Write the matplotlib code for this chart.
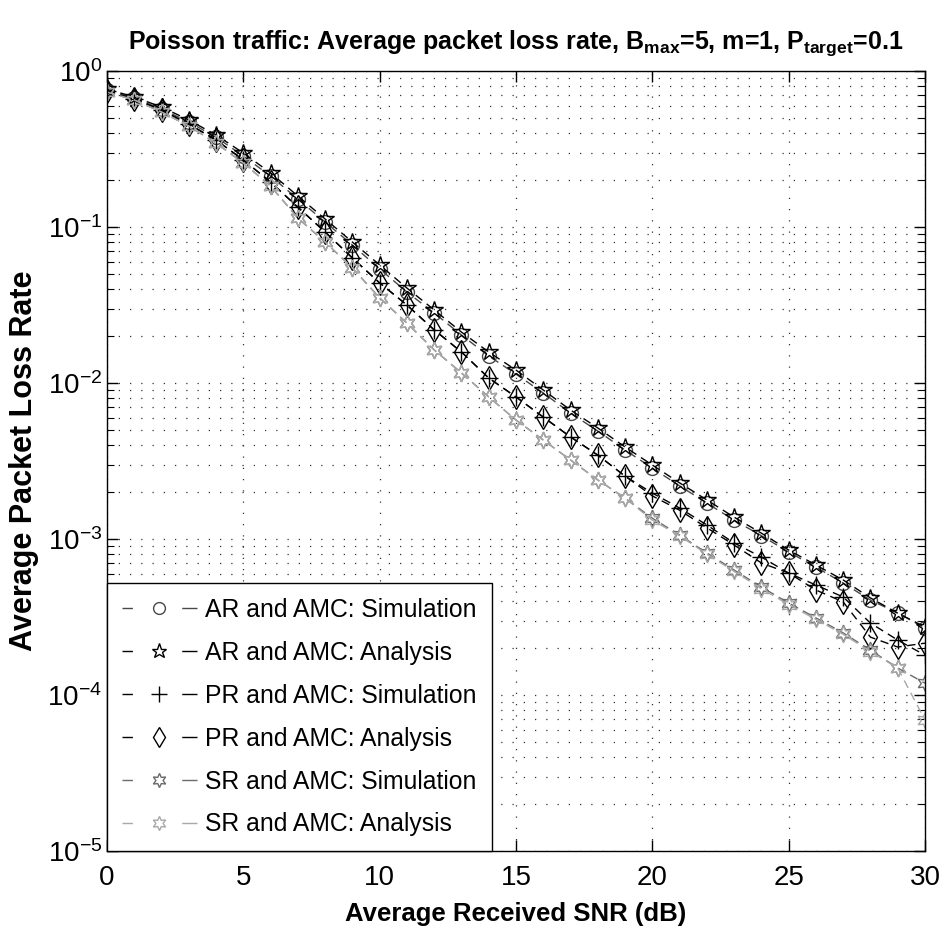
import matplotlib
matplotlib.use("Agg")
import matplotlib.pyplot as plt
from matplotlib.lines import Line2D

plt.rcParams['font.family'] = ['Liberation Sans', 'DejaVu Sans']
plt.rcParams['mathtext.fontset'] = 'custom'
plt.rcParams['mathtext.rm'] = 'Liberation Sans'
plt.rcParams['mathtext.bf'] = 'Liberation Sans:bold'

snr = list(range(0, 31))

ar_sim = [0.756, 0.671, 0.571, 0.471, 0.377, 0.285, 0.212, 0.151, 0.1076, 0.0767,
          0.0538, 0.0383, 0.0281, 0.0203, 0.0149, 0.0114, 0.00863, 0.00642, 0.00492,
          0.00372, 0.00285, 0.00219, 0.00170, 0.00132, 0.00105, 0.000825, 0.000661,
          0.000522, 0.000406, 0.000335, 0.000269]
ar_ana = [0.767, 0.681, 0.588, 0.485, 0.389, 0.298, 0.222, 0.158, 0.1125, 0.0801,
          0.0571, 0.0406, 0.0294, 0.0212, 0.0158, 0.0121, 0.00902, 0.00671, 0.00515,
          0.00389, 0.00298, 0.00229, 0.00178, 0.00138, 0.00109, 0.000850, 0.000681,
          0.000546, 0.000419, 0.000335, 0.000273]
pr_sim = [0.744, 0.661, 0.562, 0.457, 0.361, 0.269, 0.194, 0.134, 0.0928, 0.0633,
          0.0438, 0.0316, 0.0219, 0.0158, 0.01076, 0.00814, 0.00605, 0.00451, 0.00345,
          0.00253, 0.00197, 0.00158, 0.00123, 0.000943, 0.000766, 0.000605, 0.000507,
          0.000425, 0.000289, 0.000225, 0.000180]
pr_ana = [0.744, 0.661, 0.562, 0.457, 0.361, 0.269, 0.194, 0.134, 0.0928, 0.0633,
          0.0438, 0.0316, 0.0219, 0.0158, 0.01076, 0.00814, 0.00605, 0.00451, 0.00345,
          0.00253, 0.00189, 0.00153, 0.00118, 0.000915, 0.000702, 0.000605, 0.000471,
          0.000395, 0.000235, 0.000203, 0.000215]
sr_sim = [0.733, 0.652, 0.546, 0.444, 0.345, 0.257, 0.183, 0.114, 0.0801, 0.0546,
          0.0351, 0.0242, 0.0163, 0.0116, 0.00814, 0.00579, 0.00431, 0.00321, 0.00239,
          0.00183, 0.00136, 0.00106, 0.000814, 0.000633, 0.000492, 0.000389, 0.000312,
          0.000250, 0.000194, 0.000149, 0.000119]
sr_ana = [0.733, 0.652, 0.546, 0.444, 0.345, 0.257, 0.183, 0.114, 0.0801, 0.0546,
          0.0351, 0.0242, 0.0163, 0.0116, 0.00814, 0.00579, 0.00431, 0.00321, 0.00239,
          0.00183, 0.00132, 0.00105, 0.000800, 0.000620, 0.000480, 0.000380, 0.000305,
          0.000245, 0.000190, 0.000149, 0.0000691]

labels = ['AR and AMC: Simulation', 'AR and AMC: Analysis',
          'PR and AMC: Simulation', 'PR and AMC: Analysis',
          'SR and AMC: Simulation', 'SR and AMC: Analysis']

series = [ar_sim, ar_ana, pr_sim, pr_ana, sr_sim, sr_ana]
markers = ['o', '*', '+', 'd', (6, 1, 0), (6, 1, 0)]
msizes = [10, 13, 13, 12, 12, 12]
colors = ['#484848', '#000000', '#000000', '#000000', '#6a6a6a', '#a8a8a8']

fig = plt.figure(figsize=(9.43, 9.32), dpi=100)
ax = fig.add_axes([0.1135, 0.0869, 0.8674, 0.8369])

for y, m, ms, c in zip(series, markers, msizes, colors):
    ax.plot(snr, y, linestyle=(0, (6, 4)), color=c, lw=1.0, marker=m,
            markersize=ms, markerfacecolor='none', markeredgecolor=c, mew=1.0)

ax.set_yscale('log')
ax.set_xlim(0, 30)
ax.set_ylim(1e-5, 1)
ax.set_xticks([0, 5, 10, 15, 20, 25, 30])

ax.grid(True, which='major', axis='both', linestyle=(0, (1, 8)), color='#333333', lw=0.9)
ax.grid(True, which='minor', axis='y', linestyle=(0, (1, 8)), color='#333333', lw=0.9)

ax.tick_params(which='both', direction='in', top=True, right=True, labelsize=20)
ax.tick_params(which='major', length=8, width=1)
ax.tick_params(which='minor', length=5, width=0.8)
ax.tick_params(axis='x', pad=10)
for sp in ax.spines.values():
    sp.set_linewidth(1.0)

ax.set_title(r'Poisson traffic: Average packet loss rate, B$_{\mathbf{max}}$=5, m=1, P$_{\mathbf{target}}$=0.1',
             fontsize=18, fontweight='bold', pad=16)
ax.set_xlabel('Average Received SNR (dB)', fontsize=18.5, fontweight='bold', labelpad=8)
ax.set_ylabel('Average Packet Loss Rate', fontsize=22, fontweight='bold', labelpad=6)

handles = [Line2D([], [], linestyle=(0, (7.5, 35.5, 11, 10)), color=c, lw=1.0, marker=m,
                  markersize=ms * 0.85, markerfacecolor='none', markeredgecolor=c, mew=1.0)
           for m, ms, c in zip(markers, msizes, colors)]
leg = ax.legend(handles, labels, loc='lower left', borderaxespad=0, fontsize=17.8,
                handlelength=3.03, handletextpad=0.36, labelspacing=0.765, fancybox=False,
                framealpha=1, edgecolor='black', borderpad=0.59)
leg.get_frame().set_linewidth(1.0)

fig.savefig('out.png', dpi=100)
